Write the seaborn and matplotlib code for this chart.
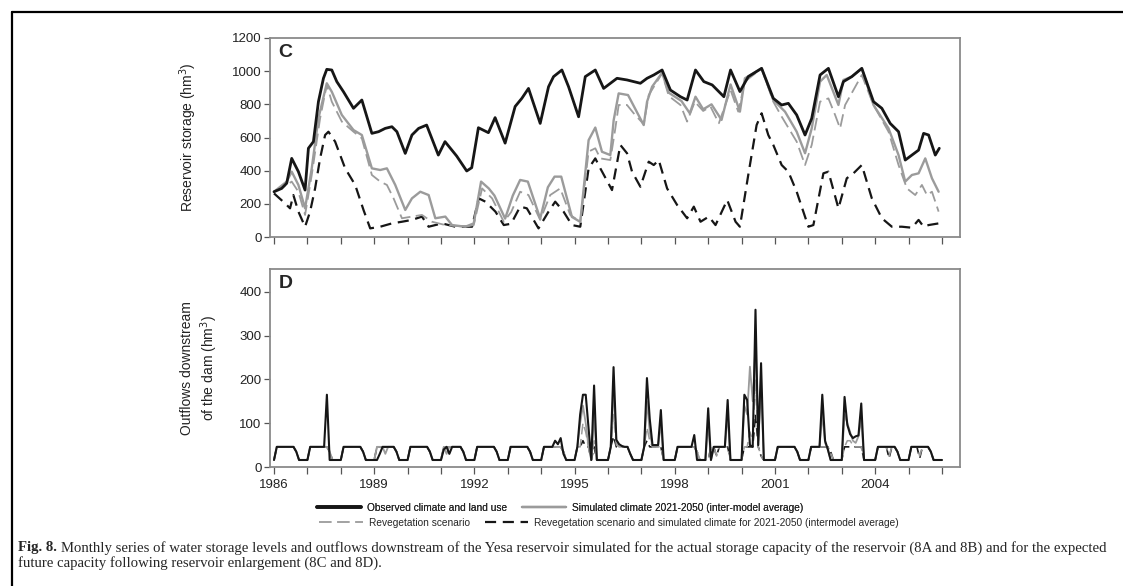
import numpy as np
import pandas as pd
import matplotlib
matplotlib.use("Agg")
import matplotlib.pyplot as plt
from matplotlib.lines import Line2D
from matplotlib.ticker import MultipleLocator
import seaborn as sns

# ---- panel C: reservoir storage (hm3), vertices (decimal year, value)
obs_t = [1986.0, 1986.23, 1986.38, 1986.53, 1986.73, 1986.93, 1987.03, 1987.18, 1987.33, 1987.48,
         1987.58, 1987.73, 1987.88, 1988.08, 1988.38, 1988.63, 1988.93, 1989.13, 1989.33, 1989.53,
         1989.68, 1989.93, 1990.13, 1990.33, 1990.57, 1990.92, 1991.12, 1991.47, 1991.77, 1991.92,
         1992.12, 1992.42, 1992.62, 1992.92, 1993.22, 1993.42, 1993.62, 1993.97, 1994.22, 1994.37,
         1994.62, 1994.82, 1995.12, 1995.32, 1995.62, 1995.87, 1996.27, 1996.57, 1996.97, 1997.17,
         1997.37, 1997.62, 1997.87, 1998.17, 1998.37, 1998.62, 1998.87, 1999.12, 1999.47, 1999.67,
         1999.95, 2000.2, 2000.6, 2000.95, 2001.2, 2001.4, 2001.65, 2001.9, 2002.1, 2002.35,
         2002.6, 2002.9, 2003.05, 2003.3, 2003.6, 2003.95, 2004.2, 2004.45, 2004.7, 2004.9,
         2005.1, 2005.3, 2005.45, 2005.6, 2005.8, 2005.92]
obs_v = [273, 293, 324, 474, 394, 283, 535, 575, 816, 957,
         1011, 1007, 937, 876, 776, 826, 625, 635, 655, 665,
         635, 504, 615, 655, 675, 494, 575, 488, 398, 418,
         659, 629, 720, 566, 787, 836, 896, 685, 906, 967,
         1007, 906, 725, 967, 1007, 896, 957, 947, 927, 957,
         977, 1007, 886, 846, 826, 1007, 937, 917, 846, 1007,
         877, 967, 1017, 836, 796, 806, 736, 615, 715, 977,
         1017, 846, 937, 967, 1017, 816, 776, 685, 635, 464,
         494, 524, 625, 615, 494, 535]

sim_t = [1986.0, 1986.38, 1986.53, 1986.73, 1986.93, 1987.13, 1987.33, 1987.58, 1987.73, 1988.03,
         1988.38, 1988.63, 1988.93, 1989.18, 1989.38, 1989.63, 1989.93, 1990.13, 1990.38, 1990.63,
         1990.83, 1991.13, 1991.33, 1991.73, 1991.98, 1992.2, 1992.43, 1992.6, 1992.92, 1993.15,
         1993.37, 1993.6, 1993.97, 1994.2, 1994.4, 1994.6, 1994.92, 1995.17, 1995.42, 1995.62,
         1995.82, 1996.07, 1996.17, 1996.32, 1996.6, 1997.07, 1997.17, 1997.32, 1997.62, 1997.82,
         1998.2, 1998.45, 1998.62, 1998.85, 1999.1, 1999.4, 1999.67, 1999.95, 2000.1, 2000.6,
         2000.95, 2001.3, 2001.65, 2001.9, 2002.1, 2002.35, 2002.55, 2002.9, 2003.05, 2003.3,
         2003.6, 2003.95, 2004.4, 2004.7, 2004.9, 2005.1, 2005.3, 2005.5, 2005.7, 2005.9]
sim_v = [273, 334, 394, 314, 173, 414, 716, 927, 876, 736,
         645, 615, 414, 404, 414, 314, 163, 233, 273, 253,
         113, 123, 72, 62, 82, 334, 293, 250, 111, 250,
         344, 334, 111, 300, 364, 364, 121, 91, 584, 660,
         514, 494, 704, 866, 856, 675, 816, 906, 990, 870,
         820, 746, 846, 770, 800, 706, 920, 756, 957, 1017,
         826, 756, 635, 505, 655, 937, 977, 796, 947, 967,
         1017, 796, 655, 494, 334, 374, 384, 474, 354, 273]

reveg_t = [1986.0, 1986.38, 1986.53, 1986.73, 1986.93, 1987.13, 1987.38, 1987.58, 1987.73, 1988.03,
           1988.38, 1988.63, 1988.93, 1989.18, 1989.38, 1989.58, 1989.83, 1990.13, 1990.43, 1990.73,
           1991.13, 1991.73, 1991.98, 1992.23, 1992.53, 1992.88, 1993.1, 1993.37, 1993.62, 1993.97,
           1994.27, 1994.57, 1994.87, 1995.17, 1995.42, 1995.62, 1995.77, 1996.07, 1996.22, 1996.32,
           1996.57, 1996.77, 1997.07, 1997.22, 1997.62, 1997.82, 1998.17, 1998.37, 1998.6, 1998.85,
           1999.07, 1999.32, 1999.67, 1999.9, 2000.1, 2000.6, 2000.95, 2001.2, 2001.65, 2001.9,
           2002.1, 2002.35, 2002.6, 2002.8, 2002.95, 2003.1, 2003.6, 2003.95, 2004.4, 2004.7,
           2004.95, 2005.2, 2005.4, 2005.55, 2005.7, 2005.9]
reveg_v = [273, 314, 334, 273, 133, 374, 716, 917, 816, 696,
           635, 595, 374, 334, 314, 233, 113, 123, 133, 92,
           72, 62, 72, 293, 233, 92, 150, 273, 253, 103,
           253, 293, 133, 92, 515, 535, 474, 464, 655, 796,
           796, 746, 680, 856, 987, 850, 796, 696, 816, 760,
           786, 686, 886, 756, 937, 1017, 816, 726, 575, 434,
           555, 816, 836, 736, 655, 796, 977, 796, 635, 434,
           293, 253, 314, 253, 273, 153]

both_t = [1986.0, 1986.33, 1986.48, 1986.58, 1986.73, 1986.93, 1987.08, 1987.23, 1987.38, 1987.53,
          1987.63, 1987.83, 1988.13, 1988.43, 1988.68, 1988.88, 1989.18, 1989.53, 1989.83, 1990.13,
          1990.43, 1990.63, 1991.03, 1991.43, 1991.93, 1992.13, 1992.33, 1992.63, 1992.88, 1993.1,
          1993.37, 1993.57, 1993.92, 1994.22, 1994.42, 1994.67, 1994.92, 1995.17, 1995.42, 1995.62,
          1995.77, 1996.12, 1996.37, 1996.57, 1996.72, 1996.97, 1997.22, 1997.37, 1997.52, 1997.77,
          1998.07, 1998.37, 1998.57, 1998.77, 1999.02, 1999.22, 1999.57, 1999.82, 1999.95, 2000.2,
          2000.45, 2000.6, 2000.8, 2000.95, 2001.2, 2001.4, 2001.65, 2002.0, 2002.15, 2002.45,
          2002.6, 2002.9, 2003.15, 2003.35, 2003.6, 2003.9, 2004.2, 2004.5, 2004.8, 2005.1,
          2005.3, 2005.45, 2005.6, 2005.9]
both_v = [263, 203, 173, 253, 153, 62, 153, 293, 474, 615,
          635, 575, 414, 314, 163, 52, 62, 82, 92, 103,
          123, 62, 82, 62, 62, 233, 213, 153, 72, 80,
          183, 173, 52, 153, 213, 153, 72, 62, 414, 474,
          414, 283, 555, 505, 394, 303, 454, 434, 464, 293,
          193, 113, 183, 92, 123, 72, 223, 92, 62, 374,
          675, 746, 615, 555, 434, 394, 273, 62, 72, 384,
          394, 173, 354, 384, 434, 233, 113, 62, 62, 56,
          103, 62, 72, 82]

# ---- panel D: monthly outflows (hm3), one row per year 1986-2005, then Jan 2006
d_obs = [
    [16, 46, 46, 46, 46, 46, 46, 46, 35, 16, 16, 16],
    [16, 46, 46, 46, 46, 46, 46, 165, 16, 16, 16, 16],
    [16, 46, 46, 46, 46, 46, 46, 46, 35, 16, 16, 16],
    [16, 16, 30, 46, 46, 46, 46, 46, 35, 16, 16, 16],
    [16, 46, 46, 46, 46, 46, 46, 46, 35, 16, 16, 16],
    [16, 40, 46, 30, 46, 46, 46, 46, 35, 16, 16, 16],
    [16, 46, 46, 46, 46, 46, 46, 46, 35, 16, 16, 16],
    [16, 46, 46, 46, 46, 46, 46, 46, 35, 16, 16, 16],
    [16, 46, 46, 46, 46, 60, 52, 66, 30, 16, 16, 16],
    [16, 46, 120, 165, 165, 90, 16, 186, 16, 16, 16, 16],
    [16, 46, 228, 62, 52, 48, 46, 46, 30, 16, 16, 16],
    [16, 46, 203, 110, 50, 50, 50, 130, 16, 16, 16, 16],
    [16, 46, 46, 46, 46, 46, 46, 73, 16, 16, 16, 16],
    [134, 16, 46, 46, 46, 46, 46, 153, 16, 16, 16, 16],
    [16, 165, 153, 50, 46, 359, 50, 237, 16, 16, 16, 16],
    [16, 46, 46, 46, 46, 46, 46, 46, 35, 16, 16, 16],
    [16, 46, 46, 46, 46, 165, 60, 40, 16, 16, 16, 16],
    [16, 160, 96, 75, 66, 70, 72, 145, 16, 16, 16, 16],
    [16, 46, 46, 46, 46, 46, 46, 46, 35, 16, 16, 16],
    [16, 46, 46, 46, 46, 46, 46, 46, 35, 16, 16, 16],
    [16]]
d_sim = [
    [16, 46, 46, 46, 46, 46, 46, 46, 35, 16, 16, 16],
    [16, 46, 46, 46, 46, 46, 46, 46, 35, 16, 16, 16],
    [16, 46, 46, 46, 46, 46, 46, 46, 35, 16, 16, 16],
    [16, 46, 46, 46, 30, 46, 46, 46, 35, 16, 16, 16],
    [16, 46, 46, 46, 46, 46, 46, 46, 35, 16, 16, 16],
    [16, 46, 30, 46, 46, 46, 46, 46, 35, 16, 16, 16],
    [16, 46, 46, 46, 46, 46, 46, 46, 35, 16, 16, 16],
    [16, 46, 46, 46, 46, 46, 46, 46, 35, 16, 16, 16],
    [16, 46, 46, 46, 46, 46, 46, 46, 35, 16, 16, 16],
    [16, 46, 100, 140, 100, 46, 16, 120, 16, 16, 16, 16],
    [16, 46, 180, 60, 46, 46, 46, 46, 30, 16, 16, 16],
    [16, 46, 150, 80, 46, 46, 46, 100, 16, 16, 16, 16],
    [16, 46, 46, 46, 46, 46, 46, 46, 35, 16, 16, 16],
    [100, 16, 46, 46, 46, 46, 46, 120, 16, 16, 16, 16],
    [16, 140, 120, 229, 150, 280, 60, 180, 16, 16, 16, 16],
    [16, 46, 46, 46, 46, 46, 46, 46, 35, 16, 16, 16],
    [16, 46, 46, 46, 46, 120, 55, 40, 16, 16, 16, 16],
    [16, 120, 100, 80, 60, 55, 70, 110, 16, 16, 16, 16],
    [16, 46, 46, 46, 46, 46, 46, 46, 35, 16, 16, 16],
    [16, 46, 46, 46, 46, 46, 46, 46, 35, 16, 16, 16],
    [16]]
d_reveg = [
    [16, 46, 46, 46, 46, 46, 46, 46, 35, 16, 16, 16],
    [16, 46, 46, 46, 46, 46, 46, 46, 35, 16, 16, 16],
    [16, 46, 46, 46, 46, 46, 46, 46, 35, 16, 16, 16],
    [16, 46, 46, 46, 46, 46, 46, 46, 35, 16, 16, 16],
    [16, 46, 46, 46, 46, 46, 46, 46, 35, 16, 16, 16],
    [16, 46, 46, 46, 46, 46, 46, 46, 35, 16, 16, 16],
    [16, 46, 46, 46, 46, 46, 46, 46, 35, 16, 16, 16],
    [16, 46, 46, 46, 46, 46, 46, 46, 35, 16, 16, 16],
    [16, 46, 46, 46, 46, 46, 46, 46, 35, 16, 16, 16],
    [16, 46, 46, 100, 80, 46, 16, 60, 16, 16, 16, 16],
    [16, 46, 120, 50, 46, 46, 46, 46, 30, 16, 16, 16],
    [16, 46, 90, 60, 46, 46, 46, 46, 16, 16, 16, 16],
    [16, 46, 46, 46, 46, 46, 46, 46, 35, 16, 16, 16],
    [16, 46, 46, 25, 46, 46, 46, 46, 16, 16, 16, 16],
    [16, 46, 46, 80, 60, 200, 46, 25, 16, 16, 16, 16],
    [16, 46, 46, 46, 46, 46, 46, 46, 35, 16, 16, 16],
    [16, 46, 46, 46, 46, 46, 46, 46, 35, 16, 16, 16],
    [16, 46, 60, 60, 50, 46, 46, 46, 16, 16, 16, 16],
    [16, 46, 46, 46, 46, 25, 46, 46, 35, 16, 16, 16],
    [16, 46, 46, 46, 25, 46, 46, 46, 35, 16, 16, 16],
    [16]]
d_both = [
    [16, 46, 46, 46, 46, 46, 46, 46, 35, 16, 16, 16],
    [16, 46, 46, 46, 46, 46, 46, 46, 35, 16, 16, 16],
    [16, 46, 46, 46, 46, 46, 46, 46, 35, 16, 16, 16],
    [16, 46, 46, 46, 46, 46, 46, 46, 35, 16, 16, 16],
    [16, 46, 46, 46, 46, 46, 46, 46, 35, 16, 16, 16],
    [16, 46, 46, 46, 46, 46, 46, 46, 35, 16, 16, 16],
    [16, 46, 46, 46, 46, 46, 46, 46, 35, 16, 16, 16],
    [16, 46, 46, 46, 46, 46, 46, 46, 35, 16, 16, 16],
    [16, 46, 46, 46, 46, 46, 46, 46, 35, 16, 16, 16],
    [16, 46, 46, 60, 46, 46, 16, 46, 16, 16, 16, 16],
    [16, 46, 70, 46, 46, 46, 46, 46, 30, 16, 16, 16],
    [16, 46, 60, 46, 46, 46, 46, 46, 16, 16, 16, 16],
    [16, 46, 46, 46, 46, 46, 46, 46, 35, 16, 16, 16],
    [16, 46, 46, 25, 46, 46, 46, 46, 16, 16, 16, 16],
    [16, 46, 46, 46, 46, 120, 46, 25, 16, 16, 16, 16],
    [16, 46, 46, 46, 46, 46, 46, 46, 35, 16, 16, 16],
    [16, 46, 46, 46, 46, 46, 46, 46, 35, 16, 16, 16],
    [16, 46, 46, 46, 46, 46, 46, 46, 16, 16, 16, 16],
    [16, 46, 46, 46, 46, 20, 46, 46, 35, 16, 16, 16],
    [16, 46, 46, 46, 20, 46, 46, 46, 35, 16, 16, 16],
    [16]]

labels = ["Observed climate and land use",
          "Simulated climate 2021-2050 (inter-model average)",
          "Revegetation scenario",
          "Revegetation scenario and simulated climate for 2021-2050 (intermodel average)"]
year_ticks = [1986, 1989, 1992, 1995, 1998, 2001, 2004]

BLACK, GREY = "#161616", "#9b9b9b"
styles = {  # key: (colour, width in C, width in D, dash pattern)
    "obs": (BLACK, 2.0, 1.5, None),
    "sim": (GREY, 1.7, 1.3, None),
    "reveg": (GREY, 1.3, 1.1, (7, 3)),
    "both": (BLACK, 1.6, 1.2, (5, 3)),
}
order = ["both", "reveg", "sim", "obs"]

storage = pd.concat([pd.DataFrame({"year": t, "value": v, "series": k}) for k, t, v in
                     [("obs", obs_t, obs_v), ("sim", sim_t, sim_v),
                      ("reveg", reveg_t, reveg_v), ("both", both_t, both_v)]])
outflow = []
for k, rows in [("obs", d_obs), ("sim", d_sim), ("reveg", d_reveg), ("both", d_both)]:
    vals = sum(rows, [])
    outflow.append(pd.DataFrame({"year": 1986 + np.arange(len(vals)) / 12, "value": vals, "series": k}))
outflow = pd.concat(outflow)

sns.set_theme(style="ticks")
plt.rcParams["font.family"] = ["Liberation Sans", "DejaVu Sans"]

fig = plt.figure(figsize=(11.23, 5.86), dpi=100)
axC = fig.add_axes([270 / 1123, 1 - 237 / 586, 690 / 1123, 199 / 586])
axD = fig.add_axes([270 / 1123, 1 - 467 / 586, 690 / 1123, 198 / 586])

for ax, df, wi in [(axC, storage, 1), (axD, outflow, 2)]:
    for k in order:
        col, lwC, lwD, dash = styles[k]
        sub = df[df.series == k]
        sns.lineplot(x=sub.year.to_numpy(), y=sub.value.to_numpy(), ax=ax, color=col,
                     lw=lwC if wi == 1 else lwD, sort=False, estimator=None)
        if dash:
            ax.lines[-1].set_dashes(dash)
    ax.set_xlim(1985.88, 2006.54)
    ax.xaxis.set_major_locator(plt.FixedLocator(year_ticks))
    ax.xaxis.set_minor_locator(MultipleLocator(1))
    ax.tick_params(axis="both", which="both", direction="out", color="#555555", width=0.9,
                   labelsize=9.5, labelcolor="#222222", pad=2)
    ax.tick_params(axis="x", which="both", length=5, pad=4)
    ax.tick_params(axis="y", length=4)
    for s in ax.spines.values():
        s.set_color("#8a8a8a"); s.set_linewidth(1.3)
    ax.set_xlabel("")

axC.set_ylim(0, 1200)
axC.yaxis.set_major_locator(MultipleLocator(200))
axC.tick_params(axis="x", labelbottom=False)
axC.set_ylabel("Reservoir storage (hm$^3$)", fontsize=10, color="#222222", labelpad=24)
axC.text(0.012, 0.97, "C", transform=axC.transAxes, fontsize=14, fontweight="bold", va="top")

axD.set_ylim(0, 452)
axD.yaxis.set_major_locator(MultipleLocator(100))
axD.set_xticklabels([str(y) for y in year_ticks])
axD.set_ylabel("Outflows downstream\nof the dam (hm$^3$)", fontsize=10, color="#222222",
               labelpad=14, linespacing=1.3)
axD.text(0.012, 0.97, "D", transform=axD.transAxes, fontsize=14, fontweight="bold", va="top")

handles = []
for k in ["obs", "sim", "reveg", "both"]:
    col, lwC, _, dash = styles[k]
    h = Line2D([], [], color=col, lw=lwC if k != "obs" else 2.6)
    if dash:
        h.set_dashes(dash)
    handles.append(h)
leg_kw = dict(ncol=2, loc="center", frameon=False, handlelength=4.3, columnspacing=1.5,
              handletextpad=0.6, prop={"size": 7.3})
leg1 = fig.legend(handles[:2], labels[:2], bbox_to_anchor=(560 / 1123, 1 - 508 / 586), **leg_kw)
fig.add_artist(leg1)
fig.legend(handles[2:], labels[2:], bbox_to_anchor=(609 / 1123, 1 - 523 / 586), **leg_kw)

# page frame and caption
fig.add_artist(Line2D([12 / 1123, 1], [1 - 12 / 586] * 2, color="black", lw=1.6))
fig.add_artist(Line2D([12 / 1123] * 2, [0, 1 - 12 / 586], color="black", lw=1.6))
serif = ["Liberation Serif", "DejaVu Serif"]
cap_size = 10.6
fig.canvas.draw()
r = fig.canvas.get_renderer()
t0 = fig.text(18 / 1123, 1 - 548 / 586, "Fig. 8.", family=serif, fontweight="bold",
              fontsize=cap_size, va="center")
w = t0.get_window_extent(r).width
fig.text(18 / 1123 + (w + 4) / 1123, 1 - 548 / 586,
         "Monthly series of water storage levels and outflows downstream of the Yesa reservoir "
         "simulated for the actual storage capacity of the reservoir (8A and 8B) and for the expected",
         family=serif, fontsize=cap_size, va="center")
fig.text(18 / 1123, 1 - 563 / 586,
         "future capacity following reservoir enlargement (8C and 8D).",
         family=serif, fontsize=cap_size, va="center")

fig.savefig("out.png", dpi=100)
